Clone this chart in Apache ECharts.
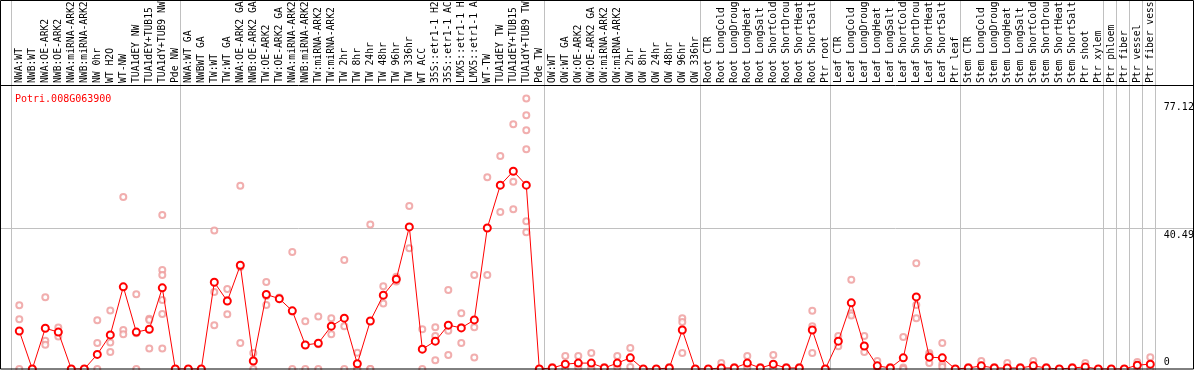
<!DOCTYPE html>
<html><head><meta charset="utf-8">
<script src="https://cdn.jsdelivr.net/npm/echarts@6/dist/echarts.min.js"></script>
<style>html,body{margin:0;padding:0;background:#fff}#c{width:1194px;height:370px}</style>
</head><body><div id="c"></div>
<script>
const geneId = "Potri.008G063900";
const categories = ["NWA:WT","NWB:WT","NWA:OE-ARK2","NWB:OE-ARK2","NWA:miRNA-ARK2","NWB:miRNA-ARK2","NW 0hr","WT H2O","WT-NW","TUA1dEY NW","TUA1dEY+TUB15 NW","TUA1dY+TUB9 NW","Pde NW",
"NWA:WT GA","NWBWT GA","TW:WT","TW:WT GA","NWA:OE-ARK2 GA","NWB:OE-ARK2 GA","TW:OE-ARK2","TW:OE-ARK2 GA","NWA:miRNA-ARK2","NWB:miRNA-ARK2","TW:miRNA-ARK2","TW:miRNA-ARK2","TW 2hr","TW 8hr","TW 24hr","TW 48hr","TW 96hr","TW 336hr","WT ACC","35S::etr1-1 H2O","35S::etr1-1 ACC","LMX5::etr1-1 H2O","LMX5::etr1-1 ACC","WT-TW","TUA1dEY TW","TUA1dEY+TUB15 TW","TUA1dY+TUB9 TW","Pde TW",
"OW:WT","OW:WT GA","OW:OE-ARK2","OW:OE-ARK2 GA","OW:miRNA-ARK2","OW:miRNA-ARK2","OW 2hr","OW 8hr","OW 24hr","OW 48hr","OW 96hr","OW 336hr",
"Root CTR","Root LongCold","Root LongDrought","Root LongHeat","Root LongSalt","Root ShortCold","Root ShortDrought","Root ShortHeat","Root ShortSalt","Ptr root",
"Leaf CTR","Leaf LongCold","Leaf LongDrought","Leaf LongHeat","Leaf LongSalt","Leaf ShortCold","Leaf ShortDrought","Leaf ShortHeat","Leaf ShortSalt","Ptr leaf",
"Stem CTR","Stem LongCold","Stem LongDrought","Stem LongHeat","Stem LongSalt","Stem ShortCold","Stem ShortDrought","Stem ShortHeat","Stem ShortSalt","Ptr shoot","Ptr xylem",
"Ptr phloem","Ptr fiber","Ptr vessel","Ptr fiber vessel"];
// number of categories in each separated group
const groupSizes = [13, 28, 12, 10, 10, 11, 1, 1, 1, 1];
const means = [10.9,0,11.7,10.6,0,0,4.2,9.8,23.6,10.6,11.4,23.3,0,
0,0,24.9,19.5,29.8,2.3,21.4,20.2,16.7,6.9,7.4,12.3,14.6,1.5,13.8,21.2,25.8,40.8,5.7,8.0,12.6,11.8,14.1,40.5,52.8,56.8,52.8,0,
0.3,1.4,1.7,1.7,0.3,1.7,3.2,0,0,0.3,11.2,0,
0,0.3,0.3,1.7,0.3,1.4,0.3,0.3,11.2,0,
8.0,19.0,6.6,0.9,0.3,3.2,20.7,3.4,3.2,0,
0.3,0.9,0.3,0.3,0.3,0.9,0.3,0,0.3,0.6,0,
0,0,1.1,1.4];
const replicates = [[18.3,14.3,0],[0,0,0],[20.6,8.1,7.0],[11.9,10.6,9.3],[0,0,0],[0,0,0],[14.0,7.5,0],[16.8,7.6,4.9],[49.4,11.2,10.0],[21.5,10.3,0],[14.4,14.1,5.9],[44.2,28.4,27.0,19.8,15.8,5.9],[0,0,0],
[0,0,0],[0,0,0],[39.8,22.1,12.6],[23.0,19.8,15.7],[52.6,29.3,7.5],[4.6,2.3,0],[25.0,21.0,18.4],[20.5,20.2,20.0],[33.6,16.5,0],[13.7,7.0,0],[15.1,7.1,0],[14.6,12.3,10.0],[31.3,12.3,0],[4.7,0,0],[41.5,0,0],[23.8,21.0,18.8],[26.5,25.8,25.1],[46.8,40.8,34.7],[11.4,5.7,0],[12.0,9.5,2.5],[22.7,11.0,4.0],[16.0,12.0,7.5],[27.0,12.0,3.3],[55.1,40.5,27.0],[61.2,52.8,45.1],[70.3,53.8,45.9],[77.7,72.9,68.6,63.1,42.4,39.3],[0,0,0],
[0.6,0,0],[3.7,0.5,0],[3.7,1.0,0.4],[4.6,0.5,0],[0.6,0.3,0],[3.7,1.0,0.4],[6.0,3.0,0.6],[0,0,0],[0,0,0],[0.6,0.3,0],[14.6,13.5,4.6],[0,0,0],
[0,0,0],[1.7,0,0],[0.6,0.3,0],[3.7,1.0,0.4],[0.6,0.3,0],[4.0,0.3,0],[0.6,0.3,0],[0.6,0.3,0],[16.7,12.3,4.6],[0,0,0],
[9.5,8.0,6.5],[25.6,16.0,15.4],[9.5,6.6,4.9],[2.3,0.4,0],[0.6,0.3,0],[9.2,0.4,0],[30.4,18.4,14.6],[4.6,4.0,1.7],[7.5,1.4,0.6],[0,0,0],
[0.6,0.3,0],[2.3,0.4,0],[0.6,0.3,0],[1.7,0,0],[0.6,0.3,0],[2.3,0.4,0],[0.6,0.3,0],[0,0,0],[0.6,0.3,0],[1.7,0.1,0],[0,0,0],
[0,0,0],[0,0,0],[2.0,1.1,0.2],[3.4,1.0,0]];
const yTicks = [0, 40.49, 77.12];
const yMax = 81.56;
const gridValue = 40.49;

const repData = [];
replicates.forEach((arr, i) => arr.forEach(v => repData.push([i, v])));

const chart = echarts.init(document.getElementById('c'));
const monoFont = '"DejaVu Sans Mono", "Liberation Mono", monospace';
chart.setOption({
  animation: false,
  backgroundColor: '#fff',
  title: { text: geneId, left: 10, top: 89, textStyle: { color: '#ff0000', fontFamily: monoFont, fontSize: 10, fontWeight: 'normal' } },
  grid: { left: 12.8, top: 85, width: 1144, height: 284, containLabel: false, outerBoundsMode: 'none' },
  xAxis: {
    type: 'category', data: categories, position: 'top', boundaryGap: true,
    axisLine: { show: false }, axisTick: { show: false }, splitLine: { show: false },
    axisLabel: { interval: 0, rotate: 90, margin: 2, color: '#000', fontFamily: monoFont, fontSize: 9.7, hideOverlap: false }
  },
  yAxis: {
    type: 'value', position: 'right', min: 0, max: yMax,
    axisLine: { show: false }, axisTick: { show: false }, splitLine: { show: false },
    axisLabel: {
      customValues: yTicks, margin: 7, color: '#000', fontFamily: monoFont, fontSize: 10, align: 'left',
      formatter: v => v === 0 ? '{u|' + v + '}' : '{d|' + v + '}',
      rich: { u: { padding: [0, 0, 14, 0], fontFamily: monoFont, fontSize: 10 }, d: { padding: [14, 0, 0, 0], fontFamily: monoFont, fontSize: 10 } }
    }
  },
  series: [
    { type: 'scatter', data: repData, symbol: 'emptyCircle', symbolSize: 6, z: 2,
      itemStyle: { color: '#ee9a9a', borderColor: '#ee9a9a', borderWidth: 1.3 } },
    { type: 'line', data: means, symbol: 'emptyCircle', symbolSize: 7, z: 3,
      lineStyle: { color: '#ff0000', width: 1 },
      itemStyle: { color: '#ff0000', borderColor: '#ff0000', borderWidth: 2 } }
  ]
});

// frame, separators and grid line, positioned through the axes
const step = chart.convertToPixel({ xAxisIndex: 0 }, 1) - chart.convertToPixel({ xAxisIndex: 0 }, 0);
const x0 = chart.convertToPixel({ xAxisIndex: 0 }, 0);
const gy = chart.convertToPixel({ yAxisIndex: 0 }, gridValue);
const y0 = chart.convertToPixel({ yAxisIndex: 0 }, 0);
const graphics = [];
let cum = 0;
const bounds = [0];
groupSizes.forEach(s => { cum += s; bounds.push(cum); });
bounds.forEach(k => {
  const x = Math.round(x0 + (k - 1) * step + 4.5) + 0.5;
  graphics.push({ type: 'line', shape: { x1: x, y1: 0, x2: x, y2: 370 }, style: { stroke: '#c0c0c0', lineWidth: 1 }, z: 0, silent: true });
});
graphics.push({ type: 'line', shape: { x1: 0, y1: Math.round(gy) + 0.5, x2: 1194, y2: Math.round(gy) + 0.5 }, style: { stroke: '#c0c0c0', lineWidth: 1 }, z: 0, silent: true });
graphics.push({ type: 'line', shape: { x1: 0, y1: 85.5, x2: 1194, y2: 85.5 }, style: { stroke: '#000', lineWidth: 1 }, z: 10, silent: true });
graphics.push({ type: 'rect', shape: { x: 0.5, y: 0.5, width: 1193, height: Math.round(y0) - 0.5 }, style: { stroke: '#000', fill: null, lineWidth: 1 }, z: 10, silent: true });
chart.setOption({ graphic: graphics });
</script></body></html>
